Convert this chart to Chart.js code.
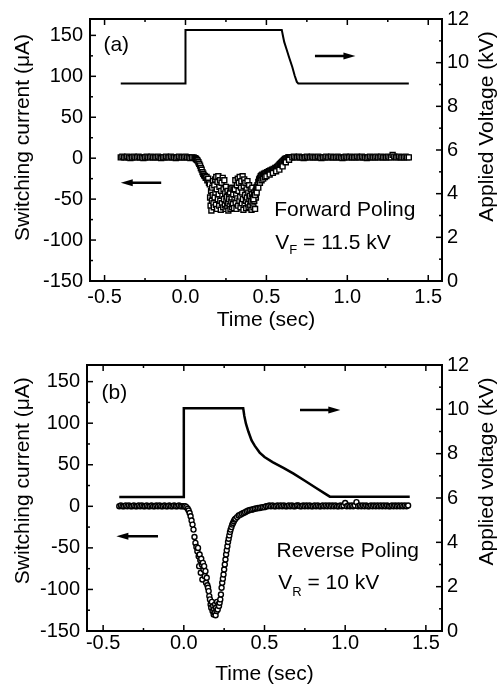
<!DOCTYPE html>
<html>
<head>
<meta charset="utf-8">
<script src="https://cdn.jsdelivr.net/npm/chart.js@4.4.1/dist/chart.umd.min.js"></script>
<style>
  html, body { margin: 0; padding: 0; background: #fff; }
  #wrap { position: relative; width: 498px; height: 687px; }
  canvas { position: absolute; left: 0; }
  #chartA { top: 0; }
  #chartB { top: 340px; }
</style>
</head>
<body>
<div id="wrap">
  <canvas id="chartA" width="498" height="340"></canvas>
  <canvas id="chartB" width="498" height="347"></canvas>
</div>
<script>
// ---- axes ----
const xTicks = [-0.5, 0, 0.5, 1, 1.5];
const xMinor = [-0.25, 0.25, 0.75, 1.25];
const currentTicks = [-150, -100, -50, 0, 50, 100, 150];
const currentMinor = [-125, -75, -25, 25, 75, 125];
const voltTicks = [0, 2, 4, 6, 8, 10, 12];
const voltMinor = [1, 3, 5, 7, 9, 11];

// ---- (a) forward poling: switching current (uA) ----
const timeA = [
  -0.40,-0.39,-0.38,-0.37,-0.36,-0.35,-0.34,-0.33,-0.32,-0.31,
  -0.30,-0.29,-0.28,-0.27,-0.26,-0.25,-0.24,-0.23,-0.22,-0.21,
  -0.20,-0.19,-0.18,-0.17,-0.16,-0.15,-0.14,-0.13,-0.12,-0.11,
  -0.10,-0.09,-0.08,-0.07,-0.06,-0.05,-0.04,-0.03,-0.02,-0.01,
  0.00,0.01,0.02,0.03,0.04,0.05,
  // descent
  0.060,0.065,0.070,0.075,0.080,0.085,0.090,0.095,0.100,0.105,
  0.110,0.115,0.120,0.125,0.130,0.135,0.140,0.145,
  // noisy minimum
  0.150,0.152,0.155,0.158,0.160,0.163,0.165,0.168,0.170,0.173,
  0.175,0.178,0.180,0.183,0.185,0.188,0.190,0.193,0.195,0.198,
  0.200,0.203,0.205,0.208,0.210,0.213,0.215,0.218,0.220,0.223,
  0.225,0.228,0.230,0.233,0.235,0.238,0.240,0.243,0.245,0.248,
  0.250,0.253,0.255,0.258,0.260,0.263,0.265,0.268,0.270,0.273,
  0.275,0.278,0.280,0.283,0.285,0.288,0.290,0.293,0.295,0.298,
  0.300,0.303,0.305,0.308,0.310,0.313,0.315,0.318,0.320,0.323,
  0.325,0.328,0.330,0.333,0.335,0.338,0.340,0.343,0.345,0.348,
  0.350,0.353,0.355,0.358,0.360,0.363,0.365,0.368,0.370,0.373,
  0.375,0.378,0.380,0.383,0.385,0.388,0.390,0.393,0.395,0.398,
  0.400,0.403,0.405,0.408,0.410,0.413,0.415,0.418,0.420,0.423,
  0.425,0.428,0.430,0.433,0.435,0.438,0.440,
  // recovery
  0.445,0.450,0.455,0.460,0.465,0.470,0.475,0.480,0.485,0.490,
  0.495,0.500,0.505,0.510,0.515,0.520,0.525,0.530,0.535,0.540,
  0.545,0.550,0.555,0.560,0.565,0.570,0.575,0.580,0.585,0.590,
  0.595,0.600,0.605,0.610,0.615,0.620,0.625,0.630,0.635,0.640,
  0.645,0.650,
  0.42,0.43,0.44,0.45,0.46,0.47,0.48,0.49,0.50,0.52,0.54,0.56,0.58,0.60,0.62,0.64,
  // baseline after
  0.66,0.67,0.68,0.69,0.70,0.71,0.72,0.73,0.74,0.75,
  0.76,0.77,0.78,0.79,0.80,0.81,0.82,0.83,0.84,0.85,
  0.86,0.87,0.88,0.89,0.90,0.91,0.92,0.93,0.94,0.95,
  0.96,0.97,0.98,0.99,1.00,1.01,1.02,1.03,1.04,1.05,
  1.06,1.07,1.08,1.09,1.10,1.11,1.12,1.13,1.14,1.15,
  1.16,1.17,1.18,1.19,1.20,1.21,1.22,1.23,1.24,1.25,
  1.26,1.27,1.28,1.29,1.30,1.31,1.32,1.33,1.34,1.35,
  1.36,1.37,1.38
];
const currentA = [
  1,2,1,1,2,1,0,1,2,1,
  1,2,1,1,0,1,2,1,1,2,
  1,1,1,2,1,0,1,1,2,1,
  1,2,1,1,0,1,2,1,1,1,
  2,1,1,0,1,1,
  0,-1,-2,-3,-5,-7,-9,-12,-14,-17,
  -19,-21,-22,-24,-23,-27,-25,-30,
  -32,-48,-58,-40,-64,-52,-36,-45,-28,-55,
  -60,-33,-48,-26,-42,-57,-23,-38,-62,-29,
  -50,-22,-44,-58,-35,-27,-52,-63,-40,-30,
  -55,-46,-24,-60,-38,-50,-27,-57,-43,-62,
  -35,-52,-47,-59,-40,-55,-64,-45,-50,-58,
  -42,-62,-37,-53,-48,-60,-36,-56,-44,-38,
  -61,-50,-38,-27,-54,-45,-62,-33,-49,-25,
  -58,-40,-30,-52,-23,-47,-60,-36,-28,-55,
  -42,-22,-50,-63,-34,-26,-57,-45,-30,-52,
  -61,-38,-48,-28,-56,-42,-60,-33,-50,-46,
  -58,-38,-53,-63,-44,-36,-55,-48,-60,-42,
  -52,-46,-62,-40,-48,-38,-35,
  -33,-29,-26,-24,-22,-21,-20,-21,-19,-20,
  -18,-19,-17,-18,-16,-17,-15,-16,-14,-15,
  -13,-14,-12,-13,-11,-10,-9,-8,-7,-6,
  -5,-4,-3,-2,-1,-1,0,0,1,1,
  1,1,
  -50,-45,-42,-36,-30,-27,-25,-23,-22,-20,-18,-16,-14,-10,-5,-2,
  1,2,1,1,2,1,1,0,1,2,
  1,1,2,1,1,1,2,1,0,1,
  1,2,1,1,2,1,1,1,2,1,
  1,0,1,2,1,1,2,1,1,1,
  2,1,1,2,1,1,0,1,2,1,
  1,1,2,1,1,2,1,1,1,2,
  1,1,4,2,1,1,2,1,1,1,
  2,1,1
];
// applied voltage (kV)
const voltTimeA = [-0.40, 0.00, 0.00, 0.595, 0.603, 0.61, 0.625, 0.64, 0.66, 0.675, 0.688, 0.697, 1.38];
const voltA =     [ 9.05, 9.05, 11.5, 11.5,  11.2,  10.95, 10.6, 10.25, 9.8, 9.4,   9.12,  9.05,  9.05];

// ---- (b) reverse poling ----
const timeB = [
  -0.40,-0.39,-0.38,-0.37,-0.36,-0.35,-0.34,-0.33,-0.32,-0.31,
  -0.30,-0.29,-0.28,-0.27,-0.26,-0.25,-0.24,-0.23,-0.22,-0.21,
  -0.20,-0.19,-0.18,-0.17,-0.16,-0.15,-0.14,-0.13,-0.12,-0.11,
  -0.10,-0.09,-0.08,-0.07,-0.06,-0.05,-0.04,-0.03,-0.02,-0.01,
  0.000,0.008,0.016,0.024,0.030,0.036,0.042,0.048,0.054,0.060,
  0.066,0.072,0.078,0.084,0.088,0.092,0.095,0.098,0.102,0.105,
  0.108,0.112,0.115,0.118,0.122,0.126,0.130,0.134,0.138,0.142,
  0.146,0.150,0.154,0.158,0.162,0.166,0.170,0.174,0.178,0.182,
  0.185,0.188,0.191,0.194,0.197,0.200,0.203,0.206,0.210,0.214,
  0.218,0.222,0.226,0.230,0.234,0.238,0.242,0.246,0.250,0.254,
  0.258,0.262,0.266,0.270,0.274,0.278,0.282,0.286,0.290,0.295,
  0.300,0.305,0.310,0.315,0.320,0.330,0.340,0.350,0.360,0.370,
  0.380,0.390,0.400,0.410,0.420,0.430,0.440,0.450,0.460,0.470,
  0.480,0.490,0.500,
  0.51,0.52,0.53,0.54,0.55,0.56,0.57,0.58,0.59,0.60,
  0.61,0.62,0.63,0.64,0.65,0.66,0.67,0.68,0.69,0.70,
  0.71,0.72,0.73,0.74,0.75,0.76,0.77,0.78,0.79,0.80,
  0.81,0.82,0.83,0.84,0.85,0.86,0.87,0.88,0.89,0.90,
  0.91,0.92,0.93,0.94,0.95,0.96,0.97,0.98,0.99,1.00,
  1.01,1.02,1.03,1.04,1.05,1.06,1.07,1.08,1.09,1.10,
  1.11,1.12,1.13,1.14,1.15,1.16,1.17,1.18,1.19,1.20,
  1.21,1.22,1.23,1.24,1.25,1.26,1.27,1.28,1.29,1.30,
  1.31,1.32,1.33,1.34,1.35,1.36,1.37,1.38,1.39
];
const currentB = [
  0,1,0,0,1,0,1,0,0,1,
  0,0,1,0,1,0,0,1,0,0,
  1,0,0,1,0,1,0,0,1,0,
  0,1,0,0,1,0,0,1,0,0,
  0,0,-1,-3,-5,-8,-12,-17,-22,-28,
  -37,-44,-49,-54,-50,-60,-72,-58,-65,-80,
  -63,-70,-88,-68,-76,-72,-84,-78,-92,-86,
  -95,-98,-102,-108,-112,-118,-122,-115,-126,-120,
  -130,-124,-128,-118,-131,-122,-126,-115,-124,-118,
  -120,-116,-112,-106,-98,-92,-87,-82,-76,-70,
  -64,-58,-53,-48,-43,-39,-35,-31,-28,-25,
  -22,-20,-18,-16,-15,-13,-11,-10,-9,-8,
  -7,-6,-5,-4.5,-4,-3.5,-3,-2.5,-2,-2,
  -1.5,-1,-1,
  0,0,1,0,1,0,0,1,0,1,
  0,1,0,0,1,0,1,0,0,1,
  1,0,0,1,0,1,0,1,0,0,
  1,0,1,0,0,1,0,1,0,1,
  0,1,0,1,0,0,1,0,1,4,
  0,1,0,1,0,1,5,0,1,0,
  1,0,1,0,0,1,0,1,0,1,
  0,1,0,1,0,1,0,0,1,0,
  1,0,1,0,1,0,1,0,1
];
const voltTimeB = [-0.40, 0.00, 0.00, 0.368, 0.375, 0.385, 0.40, 0.42, 0.44, 0.47, 0.50, 0.55, 0.62, 0.68, 0.75, 0.82, 0.87, 0.905, 1.40];
const voltB =     [ 6.05, 6.05, 10.05, 10.05, 9.7,  9.35,  9.0,  8.6,  8.35, 8.05, 7.85, 7.62, 7.35, 7.1, 6.78, 6.45, 6.22, 6.06, 6.06];

const family = '"Liberation Sans", Arial, Helvetica, sans-serif';
Chart.defaults.font.family = family;
Chart.defaults.color = '#000';

function pts(xs, ys) {
  return xs.map((x, i) => ({x: x, y: ys[i]}));
}

// inward ticks, frame box, arrows and in-plot text
const framePlugin = {
  id: 'frame',
  afterDraw(chart, args, o) {
    const ctx = chart.ctx, a = chart.chartArea;
    const sx = chart.scales.x, sy = chart.scales.y, sv = chart.scales.y2;
    ctx.save();
    ctx.strokeStyle = '#000';
    ctx.fillStyle = '#000';
    ctx.lineWidth = 1.5;
    const seg = (x1, y1, x2, y2) => { ctx.beginPath(); ctx.moveTo(x1, y1); ctx.lineTo(x2, y2); ctx.stroke(); };
    const xMark = (v, len) => {
      const p = sx.getPixelForValue(v);
      seg(p, a.bottom, p, a.bottom - len);
      seg(p, a.top, p, a.top + len);
    };
    xTicks.forEach(v => xMark(v, 6));
    xMinor.forEach(v => xMark(v, 3));
    currentTicks.forEach(v => { const p = sy.getPixelForValue(v); seg(a.left, p, a.left + 6, p); });
    currentMinor.forEach(v => { const p = sy.getPixelForValue(v); seg(a.left, p, a.left + 3, p); });
    voltTicks.forEach(v => { const p = sv.getPixelForValue(v); seg(a.right, p, a.right - 6, p); });
    voltMinor.forEach(v => { const p = sv.getPixelForValue(v); seg(a.right, p, a.right - 3, p); });

    ctx.lineWidth = 2;
    ctx.strokeRect(a.left, a.top, a.right - a.left, a.bottom - a.top);

    o.arrows.forEach(ar => {
      const s = chart.scales[ar.axis];
      const x1 = sx.getPixelForValue(ar.from), x2 = sx.getPixelForValue(ar.to);
      const y = s.getPixelForValue(ar.at);
      const d = Math.sign(x2 - x1);
      ctx.lineWidth = 2.5;
      seg(x1, y, x2 - d * 8, y);
      ctx.beginPath();
      ctx.moveTo(x2, y);
      ctx.lineTo(x2 - d * 12, y - 3.5);
      ctx.lineTo(x2 - d * 12, y + 3.5);
      ctx.closePath();
      ctx.fill();
    });

    ctx.textAlign = 'left';
    ctx.textBaseline = 'alphabetic';
    o.labels.forEach(lb => {
      let x = sx.getPixelForValue(lb.x);
      const y = sy.getPixelForValue(lb.y);
      lb.parts.forEach(p => {
        ctx.font = p[1] + 'px ' + family;
        ctx.fillText(p[0], x, y + p[2]);
        x += ctx.measureText(p[0]).width;
      });
    });

    ctx.font = '21px ' + family;
    ctx.textAlign = 'center';
    o.titles.forEach(tt => {
      ctx.save();
      ctx.translate(tt.x, tt.y);
      ctx.rotate(-Math.PI / 2);
      ctx.fillText(tt.text, 0, 0);
      ctx.restore();
    });
    ctx.restore();
  }
};

function makePanel(id, o) {
  const tickFont = {size: 20, lineHeight: 1};
  return new Chart(document.getElementById(id), {
    type: 'scatter',
    data: {
      datasets: [
        {
          data: pts(o.vt, o.v), yAxisID: 'y2', showLine: true, pointRadius: 0,
          borderColor: '#000', borderWidth: o.lw, tension: 0
        },
        {
          data: pts(o.t, o.c), yAxisID: 'y', pointStyle: o.marker, pointRadius: o.r,
          borderColor: '#000', borderWidth: 1.4, backgroundColor: '#fff'
        }
      ]
    },
    options: {
      responsive: false,
      animation: false,
      events: [],
      layout: {padding: {top: o.top, left: 0, right: 0, bottom: 0}},
      plugins: {
        legend: {display: false},
        tooltip: {enabled: false},
        frame: {arrows: o.arrows, labels: o.labels, titles: o.titles}
      },
      scales: {
        x: {
          type: 'linear', position: 'bottom', min: o.xmin, max: o.xmax,
          afterBuildTicks: s => { s.ticks = xTicks.map(v => ({value: v})); },
          afterFit: s => { s.height = o.xh; },
          grid: {display: false, drawTicks: false},
          border: {display: false},
          ticks: {font: tickFont, padding: o.xpad, maxRotation: 0, autoSkip: false,
                  callback: v => v.toFixed(1)},
          title: {display: true, text: 'Time (sec)', font: {size: 21, lineHeight: 1},
                  padding: {top: 0, bottom: o.xtpad}}
        },
        y: {
          type: 'linear', position: 'left', min: -150, max: 170,
          afterBuildTicks: s => { s.ticks = currentTicks.map(v => ({value: v})); },
          afterFit: s => { s.width = o.yl; },
          grid: {display: false, drawTicks: false},
          border: {display: false},
          ticks: {font: tickFont, padding: 7, callback: v => String(v)}
        },
        y2: {
          type: 'linear', position: 'right', min: 0, max: 12,
          afterBuildTicks: s => { s.ticks = voltTicks.map(v => ({value: v})); },
          afterFit: s => { s.width = o.yr; },
          grid: {display: false, drawTicks: false},
          border: {display: false},
          ticks: {font: tickFont, padding: 5, callback: v => String(v)}
        }
      }
    },
    plugins: [framePlugin]
  });
}

makePanel('chartA', {
  t: timeA, c: currentA, vt: voltTimeA, v: voltA,
  marker: 'rect', r: 3.5, lw: 2,
  xmin: -0.59, xmax: 1.585, top: 19, xh: 59, yl: 90, yr: 56, xpad: 6, xtpad: 9.5,
  arrows: [
    {axis: 'y2', from: 0.80, to: 1.05, at: 10.31},
    {axis: 'y', from: -0.15, to: -0.40, at: -30}
  ],
  labels: [
    {x: -0.507, y: 131.5, parts: [['(a)', 21, 0]]},
    {x: 0.548, y: -70.7, parts: [['Forward Poling', 21, 0]]},
    {x: 0.555, y: -111, parts: [['V', 21, 0], ['F', 13, 5], [' = 11.5 kV', 21, 0]]}
  ],
  titles: [
    {text: 'Switching current (\u03bcA)', x: 29, y: 137.5},
    {text: 'Applied Voltage (kV)', x: 493, y: 126.5}
  ]
});

makePanel('chartB', {
  t: timeB, c: currentB, vt: voltTimeB, v: voltB,
  marker: 'circle', r: 2.5, lw: 2.5,
  xmin: -0.60, xmax: 1.60, top: 25, xh: 56, yl: 87, yr: 56, xpad: 2, xtpad: 2.5,
  arrows: [
    {axis: 'y2', from: 0.72, to: 0.97, at: 9.97},
    {axis: 'y', from: -0.16, to: -0.418, at: -36}
  ],
  labels: [
    {x: -0.51, y: 129, parts: [['(b)', 21, 0]]},
    {x: 0.575, y: -60.5, parts: [['Reverse Poling', 21, 0]]},
    {x: 0.585, y: -99, parts: [['V', 21, 0], ['R', 13, 7], [' = 10 kV', 21, 0]]}
  ],
  titles: [
    {text: 'Switching current (\u03bcA)', x: 29, y: 140.7},
    {text: 'Applied voltage (kV)', x: 493, y: 131.5}
  ]
});
</script>
</body>
</html>
